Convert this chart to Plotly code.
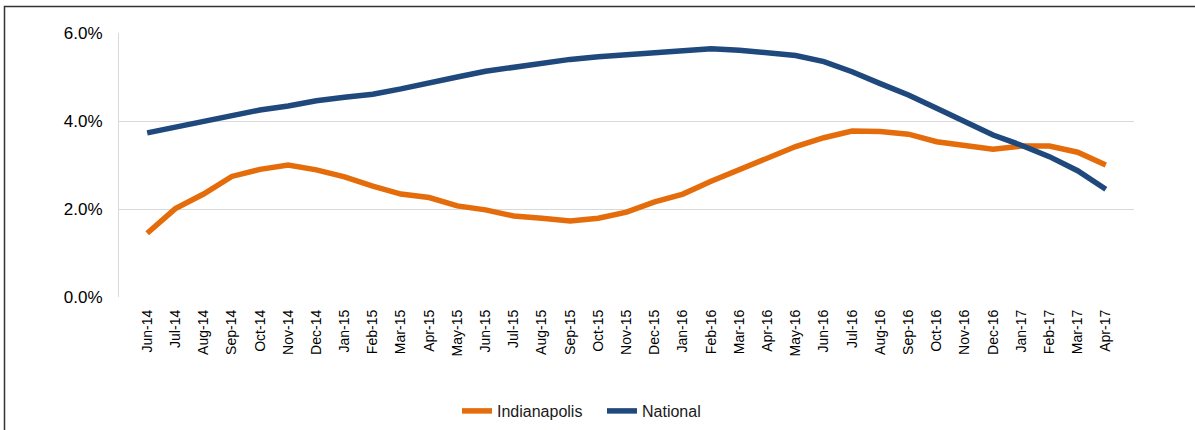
import plotly.graph_objects as go

# Monthly labels, Jun-14 through Apr-17
months = [
    "Jun-14", "Jul-14", "Aug-14", "Sep-14", "Oct-14", "Nov-14", "Dec-14",
    "Jan-15", "Feb-15", "Mar-15", "Apr-15", "May-15", "Jun-15", "Jul-15",
    "Aug-15", "Sep-15", "Oct-15", "Nov-15", "Dec-15",
    "Jan-16", "Feb-16", "Mar-16", "Apr-16", "May-16", "Jun-16", "Jul-16",
    "Aug-16", "Sep-16", "Oct-16", "Nov-16", "Dec-16",
    "Jan-17", "Feb-17", "Mar-17", "Apr-17",
]

# Year-over-year growth, percent
indianapolis = [
    1.45, 2.01, 2.34, 2.74, 2.90, 3.00, 2.89,
    2.73, 2.52, 2.34, 2.26, 2.07, 1.98, 1.84,
    1.79, 1.73, 1.79, 1.93, 2.16,
    2.34, 2.63, 2.89, 3.14, 3.42, 3.62, 3.77,
    3.76, 3.70, 3.53, 3.44, 3.36,
    3.43, 3.43, 3.29, 3.00,
]
national = [
    3.73, 3.86, 4.01, 4.13, 4.25, 4.34, 4.46,
    4.54, 4.61, 4.73, 4.88, 5.00, 5.13, 5.22,
    5.34, 5.40, 5.46, 5.50, 5.54,
    5.59, 5.64, 5.61, 5.55, 5.49, 5.35, 5.12,
    4.85, 4.59, 4.29, 3.98, 3.68,
    3.45, 3.19, 2.87, 2.45,
]

series_names = ["Indianapolis", "National"]
series_colors = ["#E46C0A", "#1F497D"]
y_ticks = [0, 2, 4, 6]

W, H = 1195, 430
L, R, T, B = 119, 61, 33, 133
pw, ph = W - L - R, H - T - B

fig = go.Figure()
for name, vals, col in zip(series_names, [indianapolis, national], series_colors):
    fig.add_trace(go.Scatter(
        x=months, y=vals, name=name, mode="lines",
        line=dict(color=col, width=5.5),
        hoverinfo="skip",
    ))

font_family = "Arial, 'Liberation Sans', sans-serif"

fig.update_layout(
    width=W, height=H,
    margin=dict(l=L, r=R, t=T, b=B, autoexpand=False),
    paper_bgcolor="white",
    plot_bgcolor="white",
    font=dict(family=font_family, color="#000000"),
    showlegend=True,
    legend=dict(
        orientation="h",
        x=(457 - L) / pw, xanchor="left",
        y=(H - B - 411) / ph, yanchor="middle",
        font=dict(size=16, color="#1a1a1a"),
        bgcolor="rgba(0,0,0,0)",
        traceorder="normal",
        entrywidth=100,
        entrywidthmode="pixels",
    ),
    xaxis=dict(
        type="category",
        range=[-1, len(months)],
        tickangle=-90,
        tickfont=dict(size=14),
        showgrid=False,
        showline=False,
        zeroline=False,
        ticks="",
        ticklabelstandoff=9,
    ),
    yaxis=dict(
        range=[0, 6],
        tickvals=y_ticks,
        ticktext=[f"{v:.1f}%" for v in y_ticks],
        tickfont=dict(size=17),
        showgrid=True,
        gridcolor="#D9D9D9",
        gridwidth=1,
        showline=True,
        linecolor="#D9D9D9",
        linewidth=1,
        zeroline=False,
        ticks="",
        ticklabelstandoff=12,
    ),
    shapes=[
        # outer frame of the chart
        dict(
            type="rect", xref="paper", yref="paper",
            x0=(4.5 - L) / pw, x1=(W + 5 - L) / pw,
            y0=(H - B - (H + 5)) / ph, y1=(H - B - 6.5) / ph,
            line=dict(color="#333333", width=1.5),
            fillcolor="rgba(0,0,0,0)",
            layer="below",
        ),
    ],
)

fig.write_html("out.html")
